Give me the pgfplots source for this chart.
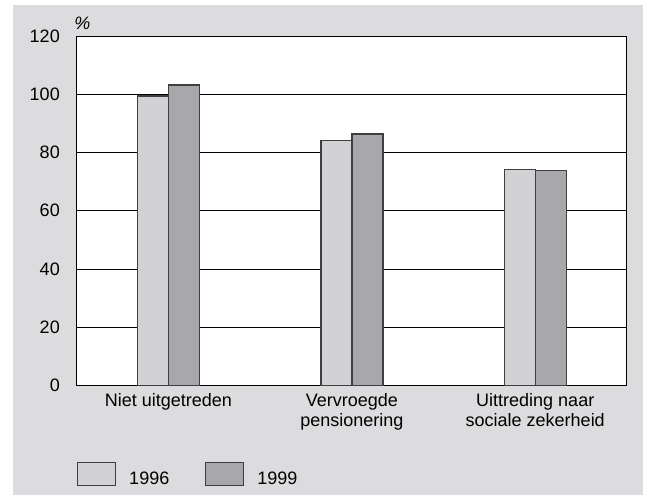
\documentclass[border=0pt]{standalone}
\usepackage{pgfplots}
\pgfplotsset{compat=1.18}
\usepackage{fontspec}
\setmainfont{Liberation Sans}
\definecolor{bgpanel}{HTML}{DCDCDE}
\definecolor{barA}{HTML}{D2D2D4}
\definecolor{barB}{HTML}{A8A8AC}
\definecolor{barline}{HTML}{3E3E3E}
\begin{document}
\begin{tikzpicture}
\path (0pt,0pt) rectangle (483.75pt,371.25pt);
\fill[bgpanel] (9.75pt,0pt) rectangle (482.25pt,367.5pt);
\begin{axis}[
  at={(57.525pt,82.125pt)}, anchor=south west,
  scale only axis,
  width=412.7pt, height=262.1pt,
  axis background/.style={fill=white},
  ybar=0pt, bar width=23.25pt,
  xmin=-0.5, xmax=2.5,
  ymin=0, ymax=120,
  ytick={0,20,...,120},
  xtick={0,1,2},
  xticklabels={{Niet uitgetreden},{Vervroegde\\pensionering},{Uittreding naar\\sociale zekerheid}},
  major tick length=0pt,
  ymajorgrids,
  grid style={black, line width=0.75pt},
  axis line style={black, line width=0.75pt},
  /pgf/number format/assume math mode=true,
  tick label style={font=\fontsize{13.5}{14.8}\selectfont, inner sep=0pt},
  yticklabel style={anchor=east, xshift=-12.5pt},
  xticklabel style={align=center, anchor=north, yshift=-5.6pt},
  legend columns=2,
  legend style={
    at={(rel axis cs:0.0005,-0.2876)}, anchor=south west,
    draw=none, fill=none, inner sep=0pt,
    cells={anchor=base west},
    nodes={inner sep=0pt, text depth=0pt, font=\fontsize{13.5}{14.8}\selectfont},
    /tikz/every odd column/.append style={column sep=9.75pt},
    /tikz/every even column/.append style={column sep=27pt},
  },
  legend image code/.code={\draw[#1, line width=0.75pt] (0pt,-0.75pt) rectangle (28.5pt,16.5pt);},
]
\addplot[fill=barA, draw=barline, line width=1.1pt] coordinates {(0,99.4) (1,84.1) (2,74.2)};
\addplot[fill=barB, draw=barline, line width=1.1pt] coordinates {(0,103.2) (1,86.4) (2,73.8)};
\legend{1996,1999}
\end{axis}
\node[anchor=base west, inner sep=0pt, font=\itshape\fontsize{13.5}{14.8}\selectfont] at (55.5pt,348.75pt) {\%};
\end{tikzpicture}
\end{document}
